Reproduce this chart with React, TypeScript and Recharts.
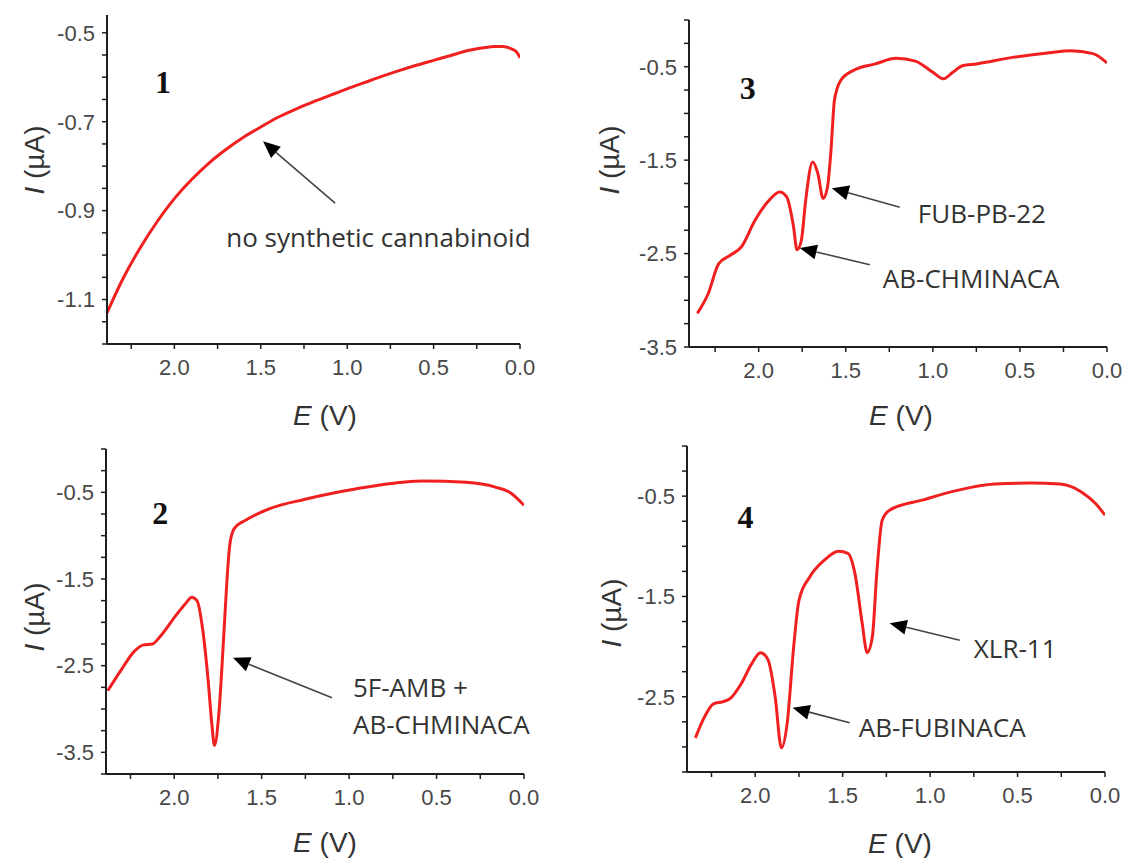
import React from 'react';
import { LineChart, Line, XAxis, YAxis, ReferenceLine, ReferenceDot } from 'recharts';

// ---------- data (E in V, I in µA) ----------
const potential1 = [2.39, 2.30, 2.20, 2.10, 2.00, 1.90, 1.80, 1.70, 1.60, 1.50, 1.40, 1.30, 1.20, 1.10, 1.00, 0.90, 0.80, 0.70, 0.60, 0.50, 0.40, 0.30, 0.20, 0.15, 0.10, 0.05, 0.02, 0.00];
const current1 = [-1.13, -1.055, -0.985, -0.925, -0.873, -0.83, -0.793, -0.762, -0.735, -0.712, -0.69, -0.672, -0.656, -0.641, -0.626, -0.612, -0.598, -0.585, -0.573, -0.562, -0.551, -0.540, -0.533, -0.531, -0.531, -0.536, -0.543, -0.556];

const potential2 = [2.38, 2.30, 2.226, 2.175, 2.124, 2.083, 1.99, 1.93, 1.90, 1.87, 1.836, 1.806, 1.785, 1.77, 1.745, 1.718, 1.698, 1.683, 1.665, 1.64, 1.60, 1.457, 1.252, 1.046, 0.84, 0.575, 0.33, 0.164, 0.082, 0.0];
const current2 = [-2.79, -2.54, -2.33, -2.26, -2.25, -2.17, -1.92, -1.77, -1.71, -1.75, -2.10, -2.67, -3.17, -3.42, -3.06, -2.2, -1.5, -1.12, -0.95, -0.88, -0.83, -0.69, -0.58, -0.49, -0.42, -0.37, -0.385, -0.44, -0.50, -0.65];

const potential3 = [2.352, 2.29, 2.23, 2.165, 2.10, 2.02, 1.94, 1.88, 1.84, 1.80, 1.78, 1.755, 1.73, 1.69, 1.66, 1.63, 1.605, 1.585, 1.565, 1.53, 1.457, 1.33, 1.21, 1.10, 1.00, 0.94, 0.885, 0.83, 0.75, 0.54, 0.33, 0.21, 0.08, 0.0];
const current3 = [-3.14, -2.93, -2.61, -2.52, -2.43, -2.14, -1.93, -1.84, -1.89, -2.21, -2.46, -2.36, -1.93, -1.52, -1.645, -1.91, -1.79, -1.40, -0.86, -0.65, -0.54, -0.47, -0.41, -0.44, -0.56, -0.63, -0.56, -0.49, -0.47, -0.40, -0.35, -0.33, -0.36, -0.46];

const potential4 = [2.342, 2.29, 2.238, 2.186, 2.145, 2.08, 2.02, 1.97, 1.927, 1.886, 1.85, 1.817, 1.78, 1.75, 1.69, 1.606, 1.523, 1.47, 1.43, 1.388, 1.36, 1.33, 1.305, 1.274, 1.232, 1.046, 0.838, 0.63, 0.424, 0.258, 0.133, 0.05, 0.0];
const current4 = [-2.91, -2.70, -2.57, -2.55, -2.52, -2.37, -2.17, -2.06, -2.13, -2.50, -3.01, -2.76, -2.00, -1.54, -1.31, -1.14, -1.05, -1.07, -1.27, -1.77, -2.06, -1.90, -1.27, -0.74, -0.64, -0.54, -0.44, -0.38, -0.37, -0.38, -0.46, -0.58, -0.69];

// ---------- ticks ----------
const xTicks = [0, 0.25, 0.5, 0.75, 1.0, 1.25, 1.5, 1.75, 2.0, 2.25];
const xTickLabels = [0, 0.5, 1.0, 1.5, 2.0];

const yTicks1 = [-1.2, -1.15, -1.1, -1.05, -1.0, -0.95, -0.9, -0.85, -0.8, -0.75, -0.7, -0.65, -0.6, -0.55, -0.5];
const yTickLabels1 = [-0.5, -0.7, -0.9, -1.1];
const yTicks2 = [-3.75, -3.5, -3.25, -3.0, -2.75, -2.5, -2.25, -2.0, -1.75, -1.5, -1.25, -1.0, -0.75, -0.5, -0.25, 0];
const yTicks3 = [-3.5, -3.25, -3.0, -2.75, -2.5, -2.25, -2.0, -1.75, -1.5, -1.25, -1.0, -0.75, -0.5, -0.25, 0];
const yTicks4 = [-3.25, -3.0, -2.75, -2.5, -2.25, -2.0, -1.75, -1.5, -1.25, -1.0, -0.75, -0.5, -0.25, 0];
const yTickLabels234 = [-0.5, -1.5, -2.5, -3.5];

const toData = (es: number[], is: number[]) => es.map((e, k) => ({ e, i: is[k] }));

const labelFmt = (labels: number[]) => (v: number) =>
  labels.some((m) => Math.abs(m - v) < 1e-6) ? v.toFixed(1) : '';

const RED = '#f02020';
const AXIS = '#1e1e1e';
const TICKTXT = '#484848';

const ArrowShape = (p: any) => {
  const { x1, y1, x2, y2 } = p;
  if ([x1, y1, x2, y2].some((v) => typeof v !== 'number' || isNaN(v))) return <g />;
  const dx = x2 - x1;
  const dy = y2 - y1;
  const len = Math.hypot(dx, dy) || 1;
  const ux = dx / len;
  const uy = dy / len;
  const L = 17;
  const W = 7.5;
  const bx = x2 - ux * L;
  const by = y2 - uy * L;
  const pts = `${x2},${y2} ${bx - uy * W},${by + ux * W} ${bx + uy * W},${by - ux * W}`;
  return (
    <g>
      <line x1={x1} y1={y1} x2={bx} y2={by} stroke="#444" strokeWidth={1.6} />
      <polygon points={pts} fill="#000" />
    </g>
  );
};

type Arrow = { x1: number; y1: number; x2: number; y2: number };
type Note = { text: string; x: number; y: number };

const panels = [
  {
    key: 'p1', left: 107, top: 15, width: 413, height: 329, xMax: 2.39, yDomain: [-1.2, -0.46],
    yTicks: yTicks1, yLabels: yTickLabels1, data: toData(potential1, current1), num: { text: '1', x: 2.066, y: -0.611 },
    arrows: [{ x1: 1.07, y1: -0.883, x2: 1.487, y2: -0.744 }] as Arrow[],
    notes: [{ text: 'no synthetic cannabinoid', x: 1.70, y: -0.96 }] as Note[],
  },
  {
    key: 'p3', left: 689, top: 20, width: 418, height: 327, xMax: 2.40, yDomain: [-3.5, 0],
    yTicks: yTicks3, yLabels: yTickLabels234, data: toData(potential3, current3), num: { text: '3', x: 2.063, y: -0.724 },
    arrows: [
      { x1: 1.19, y1: -2.005, x2: 1.58, y2: -1.80 },
      { x1: 1.362, y1: -2.62, x2: 1.764, y2: -2.44 },
    ] as Arrow[],
    notes: [
      { text: 'FUB-PB-22', x: 1.086, y: -2.07 },
      { text: 'AB-CHMINACA', x: 1.287, y: -2.76 },
    ] as Note[],
  },
  {
    key: 'p2', left: 106, top: 449, width: 418, height: 325, xMax: 2.39, yDomain: [-3.75, 0],
    yTicks: yTicks2, yLabels: yTickLabels234, data: toData(potential2, current2), num: { text: '2', x: 2.08, y: -0.733 },
    arrows: [{ x1: 1.098, y1: -2.87, x2: 1.664, y2: -2.41 }] as Arrow[],
    notes: [
      { text: '5F-AMB +', x: 0.978, y: -2.75 },
      { text: 'AB-CHMINACA', x: 0.978, y: -3.17 },
    ] as Note[],
  },
  {
    key: 'p4', left: 687, top: 446, width: 418, height: 326, xMax: 2.39, yDomain: [-3.25, 0],
    yTicks: yTicks4, yLabels: yTickLabels234, data: toData(potential4, current4), num: { text: '4', x: 2.055, y: -0.71 },
    arrows: [
      { x1: 0.83, y1: -1.936, x2: 1.231, y2: -1.767 },
      { x1: 1.46, y1: -2.76, x2: 1.786, y2: -2.61 },
    ] as Arrow[],
    notes: [
      { text: 'XLR-11', x: 0.75, y: -2.015 },
      { text: 'AB-FUBINACA', x: 1.408, y: -2.80 },
    ] as Note[],
  },
];

const axisTitles = [
  { yx: 34, yy: 160, ex: 325, ey: 415 },
  { yx: 609, yy: 160, ex: 901, ey: 415 },
  { yx: 34, yy: 617, ex: 325, ey: 842 },
  { yx: 611, yy: 613, ex: 900, ey: 843 },
];

const ML = 100;
const MT = 10;
const MR = 20;
const MB = 50;

const tickStyle = { fontSize: 22, fill: TICKTXT, fontFamily: 'Liberation Sans, Arial, sans-serif' };

function Panel({ cfg }: { cfg: any }) {
  return (
    <div style={{ position: 'absolute', left: cfg.left - ML, top: cfg.top - MT }}>
      <LineChart
        width={cfg.width + ML + MR}
        height={cfg.height + MT + MB}
        data={cfg.data}
        margin={{ top: MT, right: MR, bottom: 0, left: 0 }}
      >
        <XAxis
          type="number"
          dataKey="e"
          domain={[0, cfg.xMax]}
          reversed
          allowDataOverflow
          ticks={xTicks}
          interval={0}
          tickFormatter={labelFmt(xTickLabels)}
          height={MB}
          tickSize={5}
          tickMargin={10}
          axisLine={{ stroke: AXIS, strokeWidth: 2 }}
          tickLine={{ stroke: AXIS, strokeWidth: 1.5 }}
          tick={tickStyle}
        />
        <YAxis
          type="number"
          domain={cfg.yDomain}
          allowDataOverflow
          ticks={cfg.yTicks}
          interval={0}
          tickFormatter={labelFmt(cfg.yLabels)}
          width={ML}
          tickSize={5}
          tickMargin={7}
          axisLine={{ stroke: AXIS, strokeWidth: 2 }}
          tickLine={{ stroke: AXIS, strokeWidth: 1.5 }}
          tick={tickStyle}
        />
        <Line
          type="monotone"
          dataKey="i"
          stroke={RED}
          strokeWidth={3}
          dot={false}
          isAnimationActive={false}
        />
        {cfg.arrows.map((a: Arrow, k: number) => (
          <ReferenceLine
            key={'a' + k}
            segment={[{ x: a.x1, y: a.y1 }, { x: a.x2, y: a.y2 }]}
            shape={ArrowShape}
          />
        ))}
        {cfg.notes.map((n: Note, k: number) => (
          <ReferenceDot
            key={'n' + k}
            x={n.x}
            y={n.y}
            r={0}
            shape={(p: any) => (
              <text
                x={p.cx}
                y={p.cy}
                dominantBaseline="central"
                textAnchor="start"
                fontFamily="'Open Sans', sans-serif"
                fontSize={26}
                fill="#333"
              >
                {n.text}
              </text>
            )}
          />
        ))}
        <ReferenceDot
          x={cfg.num.x}
          y={cfg.num.y}
          r={0}
          shape={(p: any) => (
            <text
              x={p.cx}
              y={p.cy}
              dominantBaseline="central"
              textAnchor="middle"
              fontFamily="'Liberation Serif', 'Times New Roman', serif"
              fontWeight="bold"
              fontSize={32}
              fill="#111"
            >
              {cfg.num.text}
            </text>
          )}
        />
      </LineChart>
    </div>
  );
}

export default function App() {
  return (
    <div style={{ position: 'absolute', left: 0, top: 0, width: 1127, height: 858, background: '#fff', overflow: 'hidden' }}>
      {panels.map((p) => (
        <Panel key={p.key} cfg={p} />
      ))}
      <svg width={1127} height={858} style={{ position: 'absolute', left: 0, top: 0, pointerEvents: 'none' }}>
        {axisTitles.map((t, k) => (
          <g key={k} fontFamily="'Liberation Sans', Arial, sans-serif" fontSize={28} fill="#333">
            <text
              x={t.yx}
              y={t.yy}
              textAnchor="middle"
              dominantBaseline="central"
              transform={`rotate(-90 ${t.yx} ${t.yy})`}
            >
              <tspan fontStyle="italic">I</tspan> (µA)
            </text>
            <text x={t.ex} y={t.ey} textAnchor="middle" dominantBaseline="central">
              <tspan fontStyle="italic">E</tspan> (V)
            </text>
          </g>
        ))}
      </svg>
    </div>
  );
}
